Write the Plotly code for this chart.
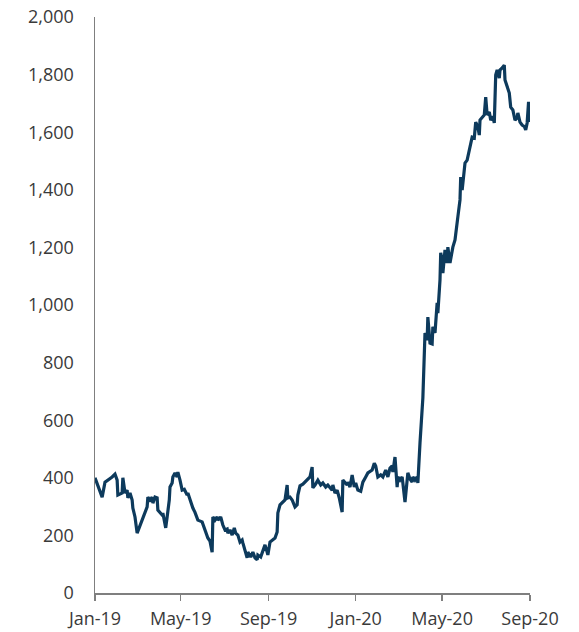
import plotly.graph_objects as go

dates = [
    "2019-01-01","2019-01-08","2019-01-11","2019-01-15","2019-01-19","2019-01-25","2019-01-29","2019-02-01",
    "2019-02-02","2019-02-08","2019-02-09","2019-02-12","2019-02-15","2019-02-16","2019-02-19","2019-02-22",
    "2019-02-23","2019-02-26","2019-03-01","2019-03-02","2019-03-05","2019-03-08","2019-03-09","2019-03-15",
    "2019-03-16","2019-03-19","2019-03-22","2019-03-23","2019-03-26","2019-03-29","2019-03-30","2019-04-02",
    "2019-04-05","2019-04-06","2019-04-10","2019-04-12","2019-04-15","2019-04-16","2019-04-19","2019-04-20",
    "2019-04-23","2019-04-26","2019-04-27","2019-04-30","2019-05-03","2019-05-06","2019-05-10","2019-05-11",
    "2019-05-14","2019-05-18","2019-05-21","2019-05-24","2019-05-25","2019-05-31","2019-06-04","2019-06-08",
    "2019-06-11","2019-06-14","2019-06-15","2019-06-18","2019-06-21","2019-06-22","2019-06-26","2019-06-29",
    "2019-07-02","2019-07-05","2019-07-06","2019-07-09","2019-07-12","2019-07-15","2019-07-17","2019-07-20",
    "2019-07-23","2019-07-26","2019-07-27","2019-07-30","2019-08-02","2019-08-03","2019-08-07","2019-08-10",
    "2019-08-13","2019-08-16","2019-08-17","2019-08-21","2019-08-24","2019-08-27","2019-08-30","2019-08-31",
    "2019-09-03","2019-09-06","2019-09-10","2019-09-13","2019-09-14","2019-09-17","2019-09-20","2019-09-24",
    "2019-09-27","2019-09-28","2019-10-01","2019-10-04","2019-10-08","2019-10-11","2019-10-12","2019-10-15",
    "2019-10-19","2019-10-25","2019-10-29","2019-11-01","2019-11-02","2019-11-05","2019-11-09","2019-11-13",
    "2019-11-16","2019-11-20","2019-11-23","2019-11-29","2019-11-30","2019-12-03","2019-12-06","2019-12-09",
    "2019-12-13","2019-12-14","2019-12-17","2019-12-20","2019-12-21","2019-12-24","2019-12-27","2019-12-30",
    "2020-01-01","2020-01-04","2020-01-08","2020-01-11","2020-01-15","2020-01-18","2020-01-24","2020-01-27",
    "2020-01-29","2020-02-01","2020-02-05","2020-02-08","2020-02-12","2020-02-15","2020-02-18","2020-02-21",
    "2020-02-22","2020-02-25","2020-02-28","2020-02-29","2020-03-03","2020-03-06","2020-03-07","2020-03-10",
    "2020-03-13","2020-03-14","2020-03-17","2020-03-20","2020-03-21","2020-03-24","2020-03-27","2020-03-28",
    "2020-03-31","2020-04-03","2020-04-04","2020-04-07","2020-04-10","2020-04-11","2020-04-14","2020-04-17",
    "2020-04-18","2020-04-21","2020-04-24","2020-04-25","2020-04-28","2020-04-29","2020-05-01","2020-05-02",
    "2020-05-05","2020-05-08","2020-05-09","2020-05-12","2020-05-15","2020-05-16","2020-05-19","2020-05-22",
    "2020-05-23","2020-05-26","2020-05-27","2020-05-29","2020-05-30","2020-06-02","2020-06-05","2020-06-08",
    "2020-06-10","2020-06-12","2020-06-15","2020-06-17","2020-06-20","2020-06-22","2020-06-23","2020-06-26",
    "2020-06-29","2020-07-01","2020-07-03","2020-07-06","2020-07-08","2020-07-11","2020-07-13","2020-07-15",
    "2020-07-17","2020-07-20","2020-07-21","2020-07-24","2020-07-27","2020-07-28","2020-07-31","2020-08-03",
    "2020-08-05","2020-08-08","2020-08-11","2020-08-14","2020-08-15","2020-08-18","2020-08-21","2020-08-24",
    "2020-08-26","2020-08-28","2020-08-30","2020-08-31","2020-09-01",
]

values = [
    400, 357, 333, 385, 392, 403, 413, 392,
    340, 347, 400, 347, 357, 330, 347, 323,
    295, 264, 208, 215, 229, 253, 257, 299,
    333, 323, 333, 312, 333, 330, 288, 278,
    271, 278, 226, 264, 323, 368, 382, 403,
    417, 403, 420, 392, 357, 360, 340, 347,
    323, 295, 280, 262, 253, 247, 219, 191,
    180, 142, 264, 253, 264, 253, 264, 236,
    219, 222, 208, 219, 201, 226, 208, 201,
    177, 184, 174, 149, 122, 142, 125, 142,
    122, 115, 132, 125, 149, 167, 142, 132,
    177, 184, 191, 212, 278, 306, 312, 323,
    375, 330, 333, 323, 299, 306, 340, 372,
    378, 392, 403, 437, 365, 375, 392, 375,
    382, 368, 375, 357, 375, 347, 357, 330,
    281, 392, 385, 375, 385, 368, 410, 368,
    382, 357, 353, 385, 403, 417, 427, 451,
    441, 403, 410, 403, 427, 403, 434, 441,
    420, 472, 368, 403, 392, 403, 382, 316,
    392, 417, 396, 385, 403, 392, 403, 382,
    521, 646, 677, 903, 878, 958, 868, 865,
    924, 903, 1007, 972, 1087, 1181, 1156, 1111,
    1191, 1146, 1201, 1146, 1191, 1201, 1226, 1306,
    1306, 1365, 1444, 1399, 1420, 1493, 1503, 1538,
    1549, 1583, 1580, 1635, 1618, 1590, 1642, 1650,
    1660, 1722, 1660, 1670, 1642, 1655, 1632, 1799,
    1816, 1788, 1816, 1823, 1833, 1781, 1757, 1736,
    1687, 1677, 1642, 1650, 1667, 1635, 1625, 1620,
    1608, 1632, 1705, 1650, 1635,
]

tick_vals = ["2019-01-01", "2019-05-01", "2019-09-01", "2020-01-01", "2020-05-01", "2020-09-01"]
tick_text = ["Jan-19", "May-19", "Sep-19", "Jan-20", "May-20", "Sep-20"]
y_ticks = [0, 200, 400, 600, 800, 1000, 1200, 1400, 1600, 1800, 2000]

fig = go.Figure()
fig.add_trace(go.Scatter(
    x=dates, y=values, mode="lines",
    line=dict(color="#0d3a5c", width=3.2),
    hoverinfo="skip", showlegend=False,
))

font_family = "Open Sans, Noto Sans, sans-serif"
fig.update_layout(
    width=579, height=632,
    margin=dict(l=95, r=49, t=17, b=39, pad=0),
    paper_bgcolor="white", plot_bgcolor="white",
    font=dict(family=font_family, size=18, color="#3a3a3a"),
    xaxis=dict(
        range=["2019-01-01", "2020-09-01"],
        tickmode="array", tickvals=tick_vals, ticktext=tick_text,
        showgrid=False, zeroline=False, automargin=False,
        showline=True, linecolor="#7f7f7f", linewidth=1.5,
        ticks="outside", ticklen=6, tickcolor="#7f7f7f", tickwidth=1.5,
        ticklabelstandoff=3,
        tickfont=dict(size=18, color="#3a3a3a"),
    ),
    yaxis=dict(
        range=[0, 2000],
        tickmode="array", tickvals=y_ticks,
        ticktext=[f"{v:,}" for v in y_ticks],
        showgrid=False, zeroline=False, automargin=False,
        showline=True, linecolor="#7f7f7f", linewidth=1.5,
        ticks="", ticklabelstandoff=16,
        tickfont=dict(size=18, color="#3a3a3a"),
    ),
)

fig.write_html(
    "out.html",
    config={"displayModeBar": False, "staticPlot": True},
    post_script="document.body.style.margin='0px';document.body.style.overflow='hidden';",
)
